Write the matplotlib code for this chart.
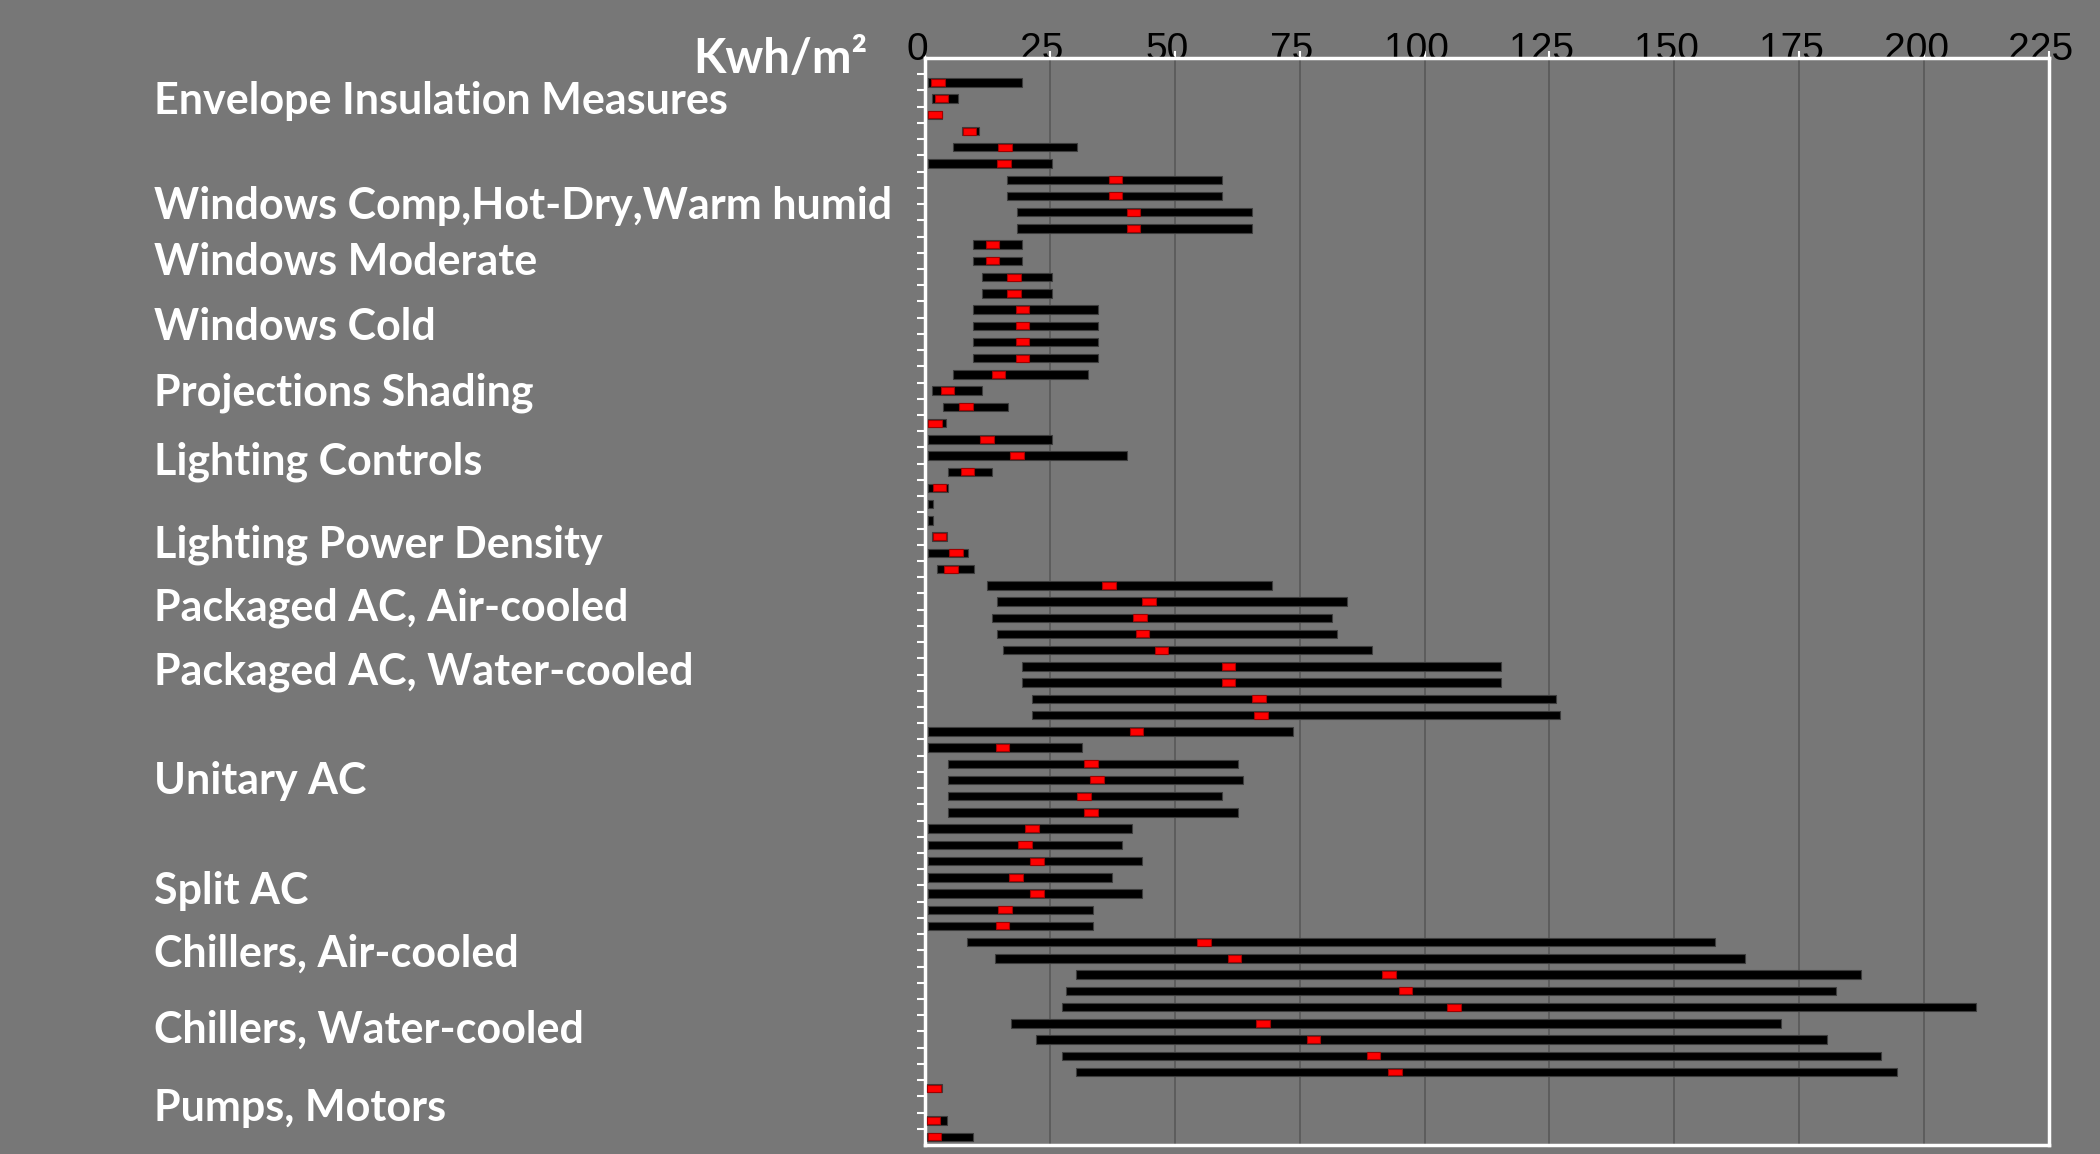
import numpy as np
import matplotlib
matplotlib.use('Agg')
import matplotlib.pyplot as plt
import matplotlib.transforms as mtransforms

# one row per measure, row 0 is an empty slot at the top
row_start = [np.nan,
             0.5, 1.45, 0.5, 7.4, 5.5, 0.5, 16.5, 16.5, 18.5, 18.5,
             9.6, 9.6, 11.4, 11.4, 9.6, 9.6, 9.6, 9.6, 5.5, 1.4,
             3.5, 0.5, 0.5, 0.5, 4.5, 0.5, 0.5, 0.5, 1.45, 0.5,
             2.4, 12.4, 14.4, 13.4, 14.4, 15.6, 19.5, 19.5, 21.4, 21.4,
             0.5, 0.5, 4.5, 4.5, 4.5, 4.5, 0.5, 0.5, 0.5, 0.5,
             0.5, 0.5, 0.5, 8.3, 14.1, 30.2, 28.3, 27.4, 17.2, 22.2,
             27.4, 30.2, 0.3, np.nan, 0.3, 0.3]
row_end = [np.nan,
           19.5, 6.5, 3.4, 10.9, 30.5, 25.5, 59.4, 59.4, 65.4, 65.4,
           19.5, 19.5, 25.5, 25.5, 34.6, 34.6, 34.6, 34.6, 32.6, 11.5,
           16.6, 4.1, 25.5, 40.4, 13.5, 4.5, 1.6, 1.6, 4.4, 8.5,
           9.7, 69.4, 84.5, 81.4, 82.4, 89.4, 115.4, 115.4, 126.4, 127.2,
           73.6, 31.5, 62.6, 63.6, 59.5, 62.6, 41.4, 39.5, 43.4, 37.5,
           43.4, 33.6, 33.6, 158.2, 164.2, 187.3, 182.3, 210.3, 171.4, 180.5,
           191.3, 194.5, 3.3, np.nan, 4.3, 9.5]
row_mark = [np.nan,
            2.6, 3.3, 2.0, 8.9, 16.0, 15.8, 38.1, 38.1, 41.7, 41.7,
            13.5, 13.5, 17.8, 17.8, 19.5, 19.5, 19.5, 19.5, 14.7, 4.5,
            8.2, 2.0, 12.4, 18.4, 8.5, 2.9, np.nan, np.nan, 2.9, 6.2,
            5.2, 36.8, 44.8, 43.0, 43.5, 47.3, 60.7, 60.7, 66.9, 67.3,
            42.3, 15.5, 33.2, 34.4, 31.8, 33.2, 21.4, 20.0, 22.4, 18.2,
            22.4, 16.0, 15.5, 55.8, 61.9, 92.9, 96.2, 105.9, 67.7, 77.8,
            89.8, 94.1, 1.8, np.nan, 1.7, 1.9]

groups = ['Envelope Insulation Measures', 'Windows Comp,Hot-Dry,Warm humid',
          'Windows Moderate', 'Windows Cold', 'Projections Shading',
          'Lighting Controls', 'Lighting Power Density', 'Packaged AC, Air-cooled',
          'Packaged AC, Water-cooled', 'Unitary AC', 'Split AC',
          'Chillers, Air-cooled', 'Chillers, Water-cooled', 'Pumps, Motors']
# baseline of each group label, in row units
group_row = [2.95, 9.4, 12.88, 16.89, 20.89, 25.15, 30.26, 34.15, 38.13,
             44.88, 51.66, 55.48, 60.17, 65.04]

x_ticks = [0, 25, 50, 75, 100, 125, 150, 175, 200, 225]

bg = '#777777'
fig = plt.figure(figsize=(21, 11.54), dpi=100, facecolor=bg)
ax = fig.add_axes([0.4405, 0.0078, 0.5352, 0.9419], facecolor=bg)

start = np.array(row_start)
end = np.array(row_end)
mark = np.array(row_mark)
y = np.arange(len(start))

ax.barh(y, end - start, left=start, height=0.52, color='black',
        edgecolor='#3c3c3c', linewidth=0.8, zorder=3)
mw = 2.7
ax.barh(y, np.full(len(mark), mw), left=mark - mw / 2, height=0.43,
        color='#ff0000', edgecolor='#a00000', linewidth=0.8, zorder=4)

ax.set_xlim(0, 225)
ax.set_ylim(len(start) - 0.5, -0.5)

ax.xaxis.tick_top()
ax.set_xticks(x_ticks)
ax.set_xticklabels([str(v) for v in x_ticks], fontsize=28,
                   family=['Liberation Sans', 'DejaVu Sans'], color='black')
ax.tick_params(axis='x', colors='white', length=5, width=1.5, pad=-12,
               labelcolor='black')
# labels sit a little left of their gridlines in the original
shift = mtransforms.ScaledTranslation(-8 / 100, 0, fig.dpi_scale_trans)
for lab in ax.get_xticklabels():
    lab.set_transform(lab.get_transform() + shift)

ax.set_yticks(np.arange(0.5, len(start) - 1, 1))
ax.set_yticklabels([])
ax.tick_params(axis='y', colors='white', length=6, width=1.5)

ax.grid(axis='x', color='#585858', linewidth=1.2, zorder=0)
ax.grid(axis='y', visible=False)
ax.set_axisbelow(True)
for s in ax.spines.values():
    s.set_color('white')
    s.set_linewidth(2.5)

trans = mtransforms.blended_transform_factory(fig.transFigure, ax.transData)
for name, r in zip(groups, group_row):
    ax.text(0.0733, r, name, transform=trans, color='white', fontsize=31,
            fontweight='bold', family=['Lato', 'DejaVu Sans'],
            ha='left', va='baseline', clip_on=False)

fig.text(0.4133, 1 - 73.3 / 1154, 'Kwh/m²', color='white', fontsize=34,
         fontweight='bold', family=['Lato', 'DejaVu Sans'],
         ha='right', va='baseline')

fig.savefig('out.png', dpi=100, facecolor=bg)
